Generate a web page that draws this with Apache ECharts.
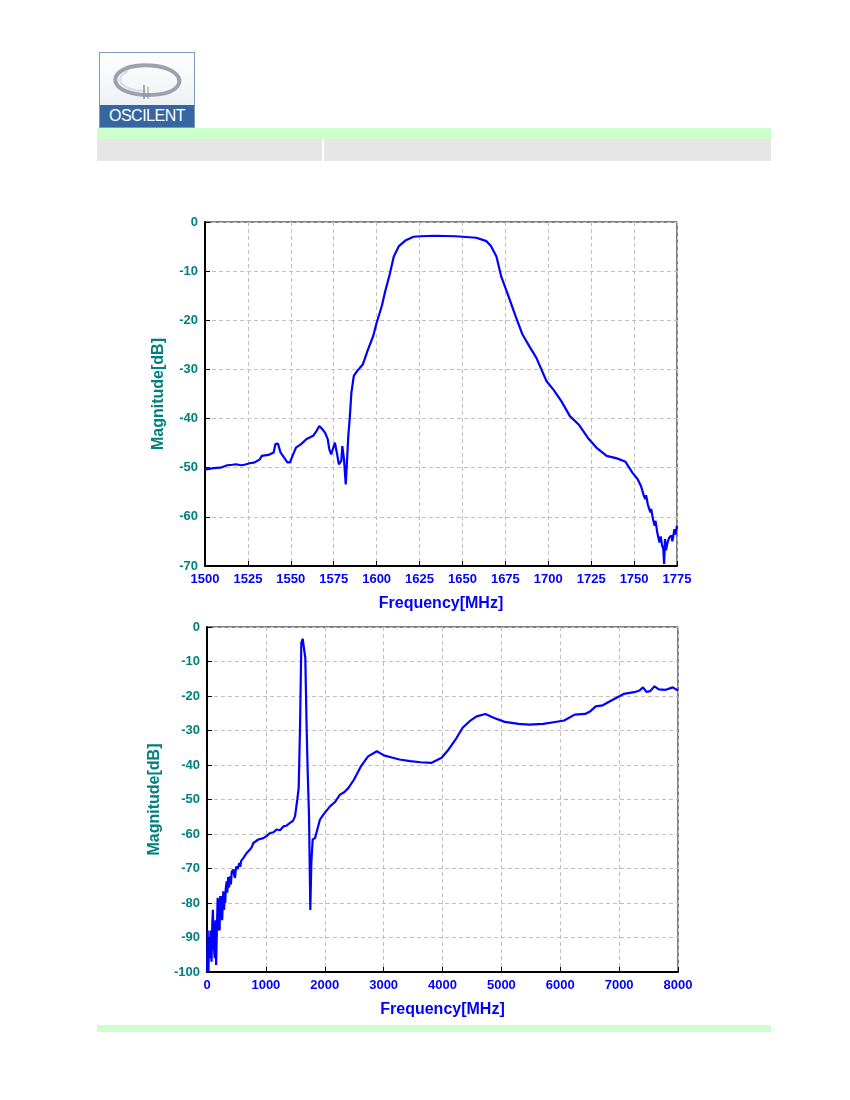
<!DOCTYPE html>
<html>
<head>
<meta charset="utf-8">
<script src="https://cdn.jsdelivr.net/npm/echarts@6/dist/echarts.min.js"></script>
<style>
  body { margin: 0; background: #fff; font-family: "Liberation Sans", Arial, sans-serif; }
  #page { position: relative; width: 850px; height: 1100px; overflow: hidden; }
  #main { position: absolute; left: 0; top: 0; width: 850px; height: 1100px; }
  .logo { position: absolute; left: 99px; top: 52px; width: 94px; height: 74px; border: 1px solid #7a9cc4; background: #fff; }
  .logo .name { position: absolute; left: 0; bottom: 0; width: 94px; height: 22px; background: #3566a0; color: #fff;
                font-size: 16px; line-height: 22px; text-align: center; letter-spacing: -0.5px; }
  .bar-green { position: absolute; left: 97px; width: 674px; background: #ccffcc; }
  .bar-gray { position: absolute; left: 97px; top: 139px; width: 674px; height: 22px; background: #e6e6e6; }
  .bar-gray .div { position: absolute; left: 225px; top: 0; width: 2px; height: 22px; background: #fff; }
</style>
</head>
<body>
<div id="page">
  <div class="logo">
    <svg width="94" height="52" style="position:absolute;left:0;top:0">
      <defs>
        <linearGradient id="bg" x1="0" y1="0" x2="0" y2="1">
          <stop offset="0" stop-color="#ffffff"/><stop offset="1" stop-color="#eef1f4"/>
        </linearGradient>
      </defs>
      <rect x="0" y="0" width="94" height="52" fill="url(#bg)"/>
      <path d="M30 14 C 4 22, 14 42, 48 42 C 80 42, 88 26, 70 17 C 60 12, 42 11, 30 14" fill="none" stroke="#9aa3ad" stroke-width="4"/>
      <path d="M28 18 C 12 26, 22 38, 46 38" fill="none" stroke="#d9dde2" stroke-width="2"/>
      <line x1="44" y1="32" x2="44" y2="46" stroke="#8a949e" stroke-width="1.5"/>
      <line x1="48" y1="34" x2="48" y2="46" stroke="#8a949e" stroke-width="1"/>
    </svg>
    <div class="name">OSCILENT</div>
  </div>
  <div class="bar-green" style="top:128px;height:11px"></div>
  <div class="bar-gray"><div class="div"></div></div>
  <div class="bar-green" style="top:1025px;height:7px"></div>
  <div id="main"></div>
</div>
<script>
// narrow band response, 1500-1775 MHz
let narrowFreq = [1500, 1505, 1509, 1513, 1516, 1518, 1521, 1523, 1526, 1529, 1532, 1533, 1537, 1540, 1541, 1542.5, 1544,
  1546, 1548, 1549.5, 1551, 1553, 1556, 1559, 1563, 1565, 1566.6, 1568, 1570, 1571.5, 1572.4, 1573.5, 1574.5, 1575.7,
  1577, 1578, 1579.4, 1580, 1581, 1582, 1582.7, 1583.5, 1584.3, 1585.3, 1586.7, 1588.7, 1591.9, 1595, 1598, 1600, 1603,
  1605, 1607.6, 1610, 1613, 1617, 1621.5, 1625.6, 1634, 1646, 1658, 1664, 1666.6, 1669.8, 1672.5, 1676.8, 1681, 1685,
  1689, 1693, 1699, 1703, 1707.5, 1712.6, 1717.7, 1723, 1728, 1734, 1740, 1745, 1749, 1752, 1754, 1755.5, 1756.5, 1757,
  1758, 1759.5, 1760, 1761, 1762, 1762.5, 1763.5, 1764.8, 1765.5, 1766.3, 1767, 1767.5, 1768, 1768.6, 1769.5, 1770.5,
  1771.7, 1772.3, 1773.5, 1774.2, 1775];
let narrowMag = [-50.4, -50.1, -50.0, -49.5, -49.4, -49.3, -49.5, -49.4, -49.1, -48.9, -48.3, -47.6, -47.4, -46.9, -45.2,
  -45.1, -46.9, -47.9, -48.9, -48.9, -47.6, -45.9, -45.2, -44.2, -43.5, -42.5, -41.5, -42.0, -42.9, -44.2, -46.2, -47.3,
  -46.2, -44.9, -47.3, -49.3, -48.6, -45.6, -48.3, -53.4, -48.9, -43.5, -40.1, -34.7, -31.3, -30.3, -29.0, -25.9, -23.2,
  -20.5, -17.1, -14.1, -10.7, -7.0, -4.9, -3.7, -3.0, -2.9, -2.8, -2.9, -3.2, -3.9, -4.9, -7.0, -11.0, -15.1, -19.2,
  -22.9, -25.3, -27.6, -32.4, -34.1, -36.4, -39.5, -41.2, -43.9, -45.9, -47.6, -48.1, -48.8, -51.0, -52.3, -53.7, -55.5,
  -56.4, -55.6, -57.5, -59.1, -58.4, -60.5, -61.8, -60.8, -63.2, -65.2, -64.0, -65.8, -66.5, -69.6, -64.5, -66.8, -65.2,
  -64.2, -63.8, -65.0, -62.5, -63.6, -61.8];

// wide band response, 0-8000 MHz
let wideFreq = [0, 12, 24, 36, 48, 60, 77, 90, 100, 115, 131, 145, 155, 165, 172, 181, 195, 205, 214, 225, 232, 245, 258,
  268, 277, 290, 300, 310, 318, 334, 345, 360, 375, 391, 405, 420, 447, 462, 476, 490, 504, 520, 549, 565, 580, 617, 645,
  674, 700, 730, 760, 787, 830, 872, 957, 1011, 1070, 1130, 1183, 1240, 1297, 1350, 1410, 1460, 1495, 1534, 1557, 1580,
  1602, 1625, 1648, 1670, 1693, 1710, 1733, 1755, 1772, 1795, 1835, 1874, 1919, 1976, 2089, 2170, 2259, 2330, 2400, 2498,
  2617, 2736, 2885, 3004, 3152, 3271, 3450, 3628, 3807, 3985, 4104, 4223, 4342, 4461, 4580, 4729, 4878, 5056, 5294, 5472,
  5710, 5888, 6067, 6245, 6424, 6513, 6602, 6721, 6900, 7078, 7257, 7346, 7405, 7465, 7524, 7602, 7673, 7792, 7911, 8000];
let wideMag = [-100, -88, -100, -90, -96, -88, -97, -86, -82, -92, -96, -85, -98, -90, -85, -78.5, -88, -79, -88, -78,
  -84, -78, -85, -80, -76.6, -82, -77, -80, -76, -73.7, -77, -72.5, -75.5, -72.3, -74.6, -71, -70.3, -72, -72.7, -70,
  -69.4, -70.2, -68.4, -69.5, -67.8, -67, -66.5, -65.5, -65.2, -64.5, -63.8, -62.6, -62.1, -61.6, -61.2, -60.6, -59.7,
  -59.5, -58.7, -58.9, -57.8, -57.6, -56.8, -56.2, -54.9, -50, -46.7, -29.3, -4.6, -3.4, -3.7, -9, -29.8, -41.8, -54.9,
  -82, -68.4, -61.6, -61.2, -58.7, -55.8, -54.4, -52, -50.8, -48.6, -47.9, -46.7, -44.2, -40.3, -37.5, -36, -37.2, -37.9,
  -38.4, -38.9, -39.2, -39.4, -37.9, -35.5, -32.6, -29.2, -27.3, -25.9, -25.2, -26.4, -27.5, -28.1, -28.3, -28.1, -27.6,
  -27.1, -25.4, -25.2, -24.4, -23, -22.7, -21, -19.4, -18.9, -18.4, -17.5, -18.8, -18.6, -17.2, -18.1, -18.2, -17.5, -18.4];

const teal = '#008080', blue = '#0000ff';
const font = '"Liberation Sans", Arial, sans-serif';

function xAxisOf(gridIndex, min, max, interval) {
    return {
        type: 'value', gridIndex: gridIndex, min: min, max: max, interval: interval,
        name: 'Frequency[MHz]', nameLocation: 'middle', nameGap: 30,
        nameTextStyle: { color: blue, fontWeight: 'bold', fontSize: 16, fontFamily: font },
        axisLine: { onZero: false, lineStyle: { color: '#000', width: 2 } },
        axisTick: { inside: true, length: 5, lineStyle: { color: '#000' } },
        axisLabel: { color: blue, fontWeight: 'bold', fontSize: 13, fontFamily: font, margin: 7,
                     showMinLabel: true, showMaxLabel: true, formatter: v => String(v) },
        splitLine: { lineStyle: { color: '#c0c0c0', type: [4, 3] } }
    };
}
function yAxisOf(gridIndex, min) {
    return {
        type: 'value', gridIndex: gridIndex, min: min, max: 0, interval: 10,
        name: 'Magnitude[dB]', nameLocation: 'middle', nameGap: 38,
        nameTextStyle: { color: teal, fontWeight: 'bold', fontSize: 16, fontFamily: font },
        axisLine: { onZero: false, lineStyle: { color: '#000', width: 2 } },
        axisTick: { inside: true, length: 5, lineStyle: { color: '#000' } },
        axisLabel: { color: teal, fontWeight: 'bold', fontSize: 13, fontFamily: font, margin: 7, formatter: v => String(v) },
        splitLine: { lineStyle: { color: '#c0c0c0', type: [4, 3] } }
    };
}

let myChart = echarts.init(document.getElementById('main'), null, { renderer: 'canvas' });
let option = {
    animation: false,
    grid: [
        { left: 205, top: 222, width: 472, height: 344, show: true, borderColor: '#000', borderWidth: 1, backgroundColor: 'transparent' },
        { left: 207, top: 627, width: 471, height: 345, show: true, borderColor: '#000', borderWidth: 1, backgroundColor: 'transparent' }
    ],
    xAxis: [xAxisOf(0, 1500, 1775, 25), xAxisOf(1, 0, 8000, 1000)],
    yAxis: [yAxisOf(0, -70), yAxisOf(1, -100)],
    series: [
        {
            type: 'line', xAxisIndex: 0, yAxisIndex: 0, showSymbol: false,
            data: narrowFreq.map((f, i) => [f, narrowMag[i]]),
            lineStyle: { color: blue, width: 2.2 }
        },
        {
            type: 'line', xAxisIndex: 1, yAxisIndex: 1, showSymbol: false,
            data: wideFreq.map((f, i) => [f, wideMag[i]]),
            lineStyle: { color: blue, width: 2.2 }
        }
    ]
};
myChart.setOption(option);
</script>
</body>
</html>
